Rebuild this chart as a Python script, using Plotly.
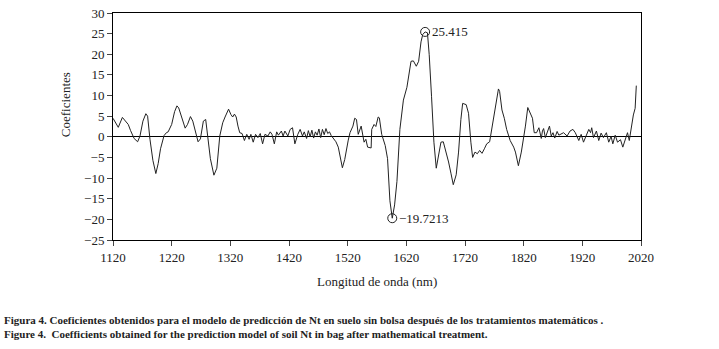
import plotly.graph_objects as go

wavelength = [
    1120, 1124, 1129, 1136, 1142, 1146, 1150, 1156, 1162, 1166, 1171, 1176, 1179, 1183, 1188, 1193,
    1197, 1201, 1207, 1211, 1214, 1220, 1225, 1229, 1232, 1237, 1243, 1247, 1252, 1256, 1262, 1265,
    1269, 1274, 1278, 1282, 1286, 1292, 1297, 1302, 1307, 1311, 1317, 1321, 1324, 1327, 1330, 1333,
    1336, 1340, 1344, 1348, 1352, 1355, 1359, 1363, 1367, 1371, 1375, 1379, 1384, 1388, 1391, 1395,
    1399, 1402, 1407, 1410, 1413, 1418, 1422, 1426, 1430, 1435, 1439, 1443, 1446, 1450, 1453, 1456,
    1459, 1462, 1465, 1468, 1471, 1474, 1477, 1480, 1483, 1486, 1489, 1492, 1496, 1500, 1504, 1508,
    1511, 1515, 1518, 1521, 1524, 1529, 1532, 1535, 1538, 1543, 1548, 1551, 1554, 1560, 1561, 1565,
    1568, 1572, 1574, 1578, 1584, 1588, 1592, 1596, 1600, 1604, 1609, 1615, 1621, 1624, 1628, 1632,
    1637, 1641, 1645, 1648, 1652, 1656, 1659, 1663, 1667, 1671, 1675, 1679, 1683, 1687, 1692, 1696,
    1700, 1705, 1709, 1713, 1716, 1722, 1726, 1730, 1733, 1737, 1741, 1745, 1749, 1753, 1757, 1762,
    1768, 1772, 1777, 1779, 1783, 1787, 1791, 1797, 1803, 1806, 1811, 1816, 1820, 1823, 1827, 1831,
    1835, 1838, 1842, 1846, 1850, 1852, 1854, 1857, 1860, 1864, 1867, 1870, 1873, 1877, 1880, 1882,
    1888, 1894, 1899, 1904, 1908, 1914, 1918, 1922, 1927, 1931, 1934, 1936, 1939, 1944, 1948, 1952,
    1956, 1961, 1965, 1969, 1972, 1976, 1980, 1985, 1989, 1993, 1997, 2000, 2004, 2007, 2010, 2012,
]

coefficients = [
    4.5, 3.6, 2.3, 4.7, 3.6, 3.0, 1.5, -0.4, -1.2, 0.2, 3.8, 5.6, 5.0, -0.6, -5.7, -8.9,
    -6.5, -2.9, 0.3, 1.0, 1.2, 3.0, 6.1, 7.5, 7.0, 4.5, 2.1, 3.0, 4.9, 3.8, 0.6, -1.2,
    -0.5, 3.8, 4.2, -0.5, -5.3, -9.3, -7.6, 0.2, 3.4, 4.8, 6.7, 5.4, 4.8, 5.5, 4.8, 2.6,
    1.0, 0.8, -0.9, 0.6, -0.6, 0.6, -1.3, 0.6, -0.2, 0.8, -1.7, 0.6, 0.2, 1.2, 0.6, -1.7,
    1.2, 0.4, 1.4, 0.2, 1.4, 0.2, 1.8, 2.2, -1.7, 0.6, 1.8, 0.2, 1.2, -0.4, 1.5, 0.0,
    1.6, -0.3, 1.2, 0.4, 1.9, -0.2, 1.8, 0.5, 2.0, 0.8, 1.2, 0.3, -0.5, -1.2, -2.5, -5.0,
    -7.5, -5.5, -2.9, -0.8, 1.0, 2.6, 4.5, 4.2, 0.6, 2.6, -1.3, -0.6, -2.5, -2.7, 1.8, 3.0,
    2.5, 4.8, 4.6, 0.6, -2.1, -5.3, -15.5, -19.7213, -16.5, -10.8, 1.8, 8.9, 12.0, 14.4, 18.3, 18.4,
    17.1, 18.3, 23.0, 24.8, 25.415, 25.2, 19.9, 9.7, -1.3, -7.6, -4.5, -1.3, -1.2, -3.3, -6.1, -8.8,
    -11.6, -9.2, -3.7, 4.2, 8.1, 7.8, 5.7, -1.3, -5.0, -3.7, -4.1, -3.3, -4.0, -2.9, -1.7, -1.2,
    4.2, 8.1, 11.6, 11.0, 6.5, 4.5, 1.8, -0.9, -2.5, -3.7, -7.0, -3.7, -0.2, 2.6, 7.1, 5.7,
    4.5, 1.0, 1.0, 2.2, -0.4, 1.4, 2.0, -0.2, 1.0, 2.6, 0.2, 1.0, -0.3, 1.3, 0.4, 0.6,
    1.0, 0.2, 1.4, 1.8, 1.0, -0.9, 0.6, -1.3, 0.6, 1.8, 1.0, 2.2, -0.2, 1.4, -0.9, 0.9,
    -0.2, 1.0, -1.3, 0.1, -1.7, 0.4, -1.3, -0.7, -2.5, -0.9, 1.0, -0.9, 3.4, 5.3, 6.9, 12.4,
]

x_ticks = [1120, 1220, 1320, 1420, 1520, 1620, 1720, 1820, 1920, 2020]
y_ticks = [-25, -20, -15, -10, -5, 0, 5, 10, 15, 20, 25, 30]

max_point = (1652, 25.415)
min_point = (1596, -19.7213)

serif = "Liberation Serif"
ink = "#222222"

fig = go.Figure()
fig.add_trace(go.Scatter(
    x=wavelength, y=coefficients, mode="lines",
    line=dict(color=ink, width=1), showlegend=False,
))
fig.add_trace(go.Scatter(
    x=[max_point[0], min_point[0]], y=[max_point[1], min_point[1]], mode="markers",
    marker=dict(symbol="circle-open", size=9, color=ink, line=dict(width=1)),
    showlegend=False,
))

annotations = [
    dict(x=max_point[0], y=max_point[1], xref="x", yref="y", text=f"{max_point[1]:.3f}",
         showarrow=False, xanchor="left", yanchor="middle", xshift=5,
         font=dict(family=serif, size=13, color=ink)),
    dict(x=min_point[0], y=min_point[1], xref="x", yref="y", text="\u2212" + f"{abs(min_point[1]):.4f}",
         showarrow=False, xanchor="left", yanchor="middle", xshift=5,
         font=dict(family=serif, size=13, color=ink)),
    dict(x=(65 - 113) / 528, y=(240 - 101) / 234, xref="paper", yref="paper", text="Coeficientes",
         textangle=-90, showarrow=False, xanchor="center", yanchor="middle",
         font=dict(family=serif, size=13, color=ink)),
    dict(x=0.5, y=(240 - 283) / 234, xref="paper", yref="paper", text="Longitud de onda (nm)",
         showarrow=False, xanchor="center", yanchor="middle",
         font=dict(family=serif, size=13, color=ink)),
    dict(x=(2 - 113) / 528, y=(240 - 322) / 234, xref="paper", yref="paper", xanchor="left", yanchor="middle",
         text="<b>Figura 4. Coeficientes obtenidos para el modelo de predicción de Nt en suelo sin bolsa después de los tratamientos matemáticos .</b>",
         showarrow=False, font=dict(family=serif, size=11, color=ink)),
    dict(x=(2 - 113) / 528, y=(240 - 337) / 234, xref="paper", yref="paper", xanchor="left", yanchor="middle",
         text="<b>Figure 4.  Coefficients obtained for the prediction model of soil Nt in bag after mathematical treatment.</b>",
         showarrow=False, font=dict(family=serif, size=11, color=ink)),
]

fig.update_layout(
    width=719, height=349,
    margin=dict(l=113, r=78, t=6, b=109),
    paper_bgcolor="white", plot_bgcolor="white",
    annotations=annotations,
    xaxis=dict(range=[1120, 2020], tickvals=x_ticks, ticks="outside", ticklen=5,
               showline=True, linecolor="black", linewidth=1, mirror=True,
               showgrid=False, zeroline=False, ticklabeloverflow="allow",
               tickfont=dict(family=serif, size=13, color=ink)),
    yaxis=dict(range=[-25, 30], tickvals=y_ticks, ticks="outside", ticklen=5,
               showline=True, linecolor="black", linewidth=1, mirror=True,
               showgrid=False, zeroline=True, zerolinecolor="black", zerolinewidth=1,
               ticklabeloverflow="allow",
               tickfont=dict(family=serif, size=13, color=ink)),
)

fig.write_html(
    "out.html",
    config={"displayModeBar": False},
    post_script="document.body.style.margin='0px';document.body.style.overflow='hidden';",
)
